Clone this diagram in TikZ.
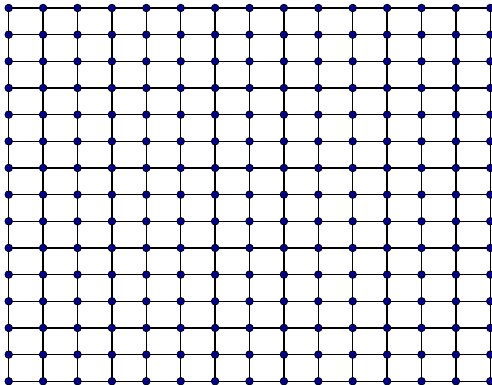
\documentclass[tikz,border=0pt]{standalone}
\begin{document}
\begin{tikzpicture}[x=1pt,y=-1pt,
  gridline/.style={draw=black,line width=1.4pt},
  vdot/.style={circle,draw=black,fill=blue!60!black,line width=0.8pt,inner sep=0pt,minimum size=7.5pt}]
\useasboundingbox (0,0) rectangle (492,385);
\foreach \i in {0,...,14}{
  \foreach \j in {0,...,14}{
    \coordinate (p-\i-\j) at ({8.7+34.4*\i},{8+26.66*\j});
  }
}
\foreach \j in {0,...,14}{
  \draw[gridline] (p-0-\j) -- (p-14-\j);
}
\foreach \i in {0,...,14}{
  \draw[gridline] (p-\i-0) -- (p-\i-14);
}
\foreach \i in {0,...,14}{
  \foreach \j in {0,...,14}{
    \node[vdot] (n-\i-\j) at (p-\i-\j) {};
  }
}
\end{tikzpicture}
\end{document}
